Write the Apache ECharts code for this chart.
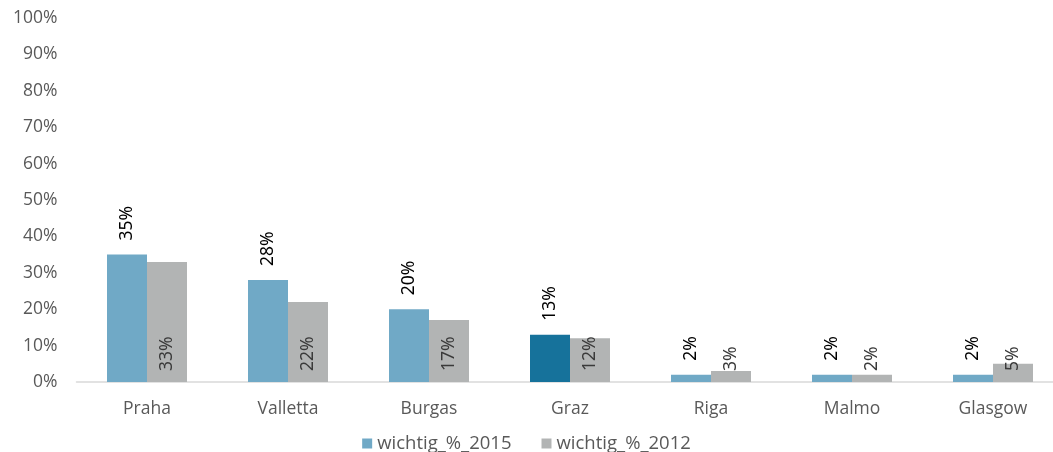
<!DOCTYPE html>
<html>
<head>
<meta charset="utf-8">
<script src="https://cdn.jsdelivr.net/npm/echarts@6/dist/echarts.min.js"></script>
<style>
  html, body { margin: 0; padding: 0; background: #fff; }
  #chart { width: 1053px; height: 452px; }
</style>
</head>
<body>
<div id="chart"></div>
<script>
const cities = ['Praha', 'Valletta', 'Burgas', 'Graz', 'Riga', 'Malmo', 'Glasgow']
const wichtig2015 = [35, 28, 20, 13, 2, 2, 2]
const wichtig2012 = [33, 22, 17, 12, 3, 2, 5]
const yTicks = [0, 10, 20, 30, 40, 50, 60, 70, 80, 90, 100]

const blue = '#70a9c6'
const darkBlue = '#16729b'
const gray = '#b2b4b4'
const labelFont = '"Liberation Sans Narrow", "Noto Sans", sans-serif'
const axisFont = '"Open Sans", "DejaVu Sans", sans-serif'

const chart = echarts.init(document.getElementById('chart'))

chart.setOption({
  animation: false,
  grid: { left: 76.5, width: 987, top: 18, height: 364, outerBoundsMode: 'none' },
  legend: {
    top: 429,
    left: 'center',
    itemWidth: 10,
    itemHeight: 10,
    itemGap: 30,
    icon: 'rect',
    textStyle: { fontFamily: axisFont, fontSize: 18.5, color: '#595959' },
  },
  xAxis: {
    type: 'category',
    data: cities,
    axisLine: { lineStyle: { color: '#d9d9d9', width: 1.5 } },
    axisTick: { show: false },
    axisLabel: { fontFamily: axisFont, fontSize: 17.5, color: '#595959', margin: 18 },
  },
  yAxis: {
    type: 'value',
    min: yTicks[0],
    max: yTicks[yTicks.length - 1],
    interval: 10,
    axisLine: { show: false },
    axisTick: { show: false },
    splitLine: { show: false },
    axisLabel: {
      fontFamily: axisFont,
      fontSize: 17.5,
      color: '#595959',
      margin: 19,
      formatter: '{value}%',
    },
  },
  series: [
    {
      name: 'wichtig_%_2015',
      type: 'bar',
      data: wichtig2015.map((v, i) => cities[i] === 'Graz'
        ? { value: v, itemStyle: { color: darkBlue } }
        : v),
      itemStyle: { color: blue },
      barWidth: 40,
      barGap: '0%',
      label: {
        show: true,
        position: 'top',
        rotate: 90,
        align: 'left',
        verticalAlign: 'middle',
        distance: 14,
        formatter: '{c}%',
        fontFamily: labelFont,
        fontSize: 17.5,
        color: '#000',
      },
    },
    {
      name: 'wichtig_%_2012',
      type: 'bar',
      data: wichtig2012,
      itemStyle: { color: gray },
      barWidth: 40,
      label: {
        show: true,
        position: 'insideBottom',
        rotate: 90,
        align: 'left',
        verticalAlign: 'middle',
        distance: 11,
        formatter: '{c}%',
        fontFamily: labelFont,
        fontSize: 17.5,
        color: '#3a3a3a',
      },
    },
  ],
})
</script>
</body>
</html>
